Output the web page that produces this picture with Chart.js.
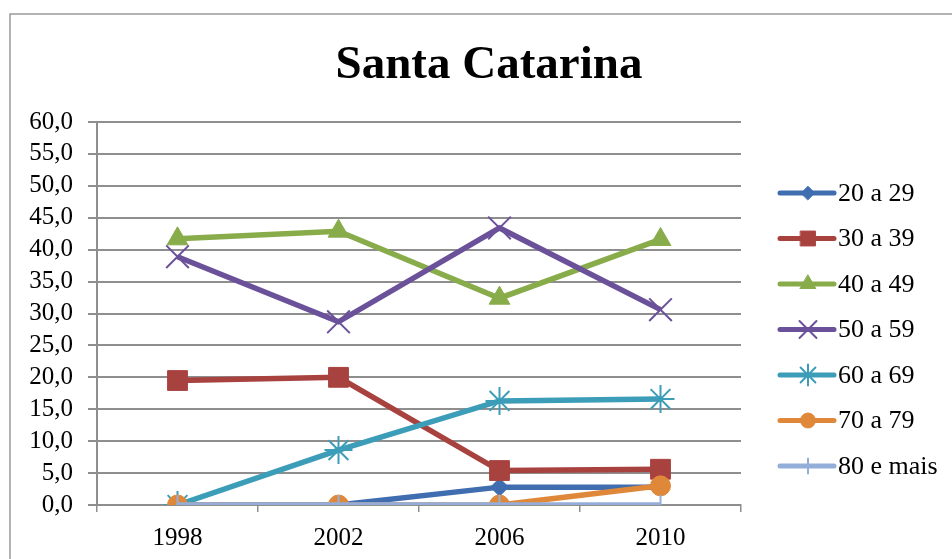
<!DOCTYPE html>
<html>
<head>
<meta charset="utf-8">
<script src="https://cdn.jsdelivr.net/npm/chart.js@4/dist/chart.umd.min.js"></script>
<style>
  html, body { margin: 0; padding: 0; background: #fff; }
  #wrap { width: 952px; height: 559px; }
</style>
</head>
<body>
<div id="wrap"><canvas id="chart" width="952" height="559"></canvas></div>
<script>
const years = ['1998', '2002', '2006', '2010'];

const age20 = [0, 0, 2.8, 2.8];
const age30 = [19.5, 20.0, 5.4, 5.6];
const age40 = [41.7, 42.9, 32.4, 41.6];
const age50 = [38.9, 28.7, 43.4, 30.6];
const age60 = [0, 8.6, 16.3, 16.6];
const age70 = [0, 0, 0, 3.0];
const age80 = [0, 0, 0, 0];

const seriesNames = ['20 a 29', '30 a 39', '40 a 49', '50 a 59', '60 a 69', '70 a 79', '80 e mais'];

const serif = "'Liberation Serif', 'Times New Roman', serif";
const gridGray = '#8e8e8e';

function makeSeries(label, data, color, style, radius, borderW, rotation) {
    return {
        label: label,
        data: data,
        borderColor: color,
        backgroundColor: color,
        pointBackgroundColor: color,
        pointBorderColor: color,
        borderWidth: 5.5,
        pointStyle: style,
        pointRadius: radius,
        pointBorderWidth: borderW,
        pointRotation: rotation || 0,
        tension: 0
    };
}

const datasets = [
    makeSeries(seriesNames[0], age20, '#3F6DAF', 'rectRot', 9, 1),
    makeSeries(seriesNames[1], age30, '#A8423F', 'rect', 14, 1),
    makeSeries(seriesNames[2], age40, '#89AC4B', 'triangle', 12, 1),
    makeSeries(seriesNames[3], age50, '#6B519A', 'crossRot', 16, 2),
    makeSeries(seriesNames[4], age60, '#3C9DB8', 'star', 14, 2),
    makeSeries(seriesNames[5], age70, '#E0883A', 'circle', 10, 1),
    makeSeries(seriesNames[6], age80, '#94AEDA', 'line', 10, 2, 90)
];
// later series sit on top, like the original
datasets.forEach((d, i) => { d.order = datasets.length - i; });

const extras = {
    id: 'extras',
    afterDraw(chart) {
        const ctx = chart.ctx;
        ctx.save();
        // outer frame (cropped at right / bottom)
        ctx.strokeStyle = '#9a9a9a';
        ctx.lineWidth = 1.5;
        ctx.beginPath();
        ctx.moveTo(10, 559);
        ctx.lineTo(10, 14);
        ctx.lineTo(952, 14);
        ctx.stroke();

        // title
        ctx.fillStyle = '#000';
        ctx.font = 'bold 47px ' + serif;
        ctx.textAlign = 'center';
        ctx.textBaseline = 'alphabetic';
        ctx.fillText('Santa Catarina', 489, 78);

        // legend
        ctx.font = '26px ' + serif;
        ctx.textAlign = 'left';
        ctx.textBaseline = 'middle';
        chart.data.datasets.forEach((ds, i) => {
            const y = 193 + i * 45.5;
            ctx.strokeStyle = ds.borderColor;
            ctx.lineWidth = 5;
            ctx.lineCap = 'round';
            ctx.beginPath();
            ctx.moveTo(780, y);
            ctx.lineTo(834, y);
            ctx.stroke();
            ctx.lineWidth = ds.pointBorderWidth;
            ctx.fillStyle = ds.pointBackgroundColor;
            Chart.helpers.drawPoint(ctx, {
                pointStyle: ds.pointStyle,
                radius: ds.pointRadius * 0.75,
                rotation: ds.pointRotation,
                borderWidth: ds.pointBorderWidth
            }, 808, y);
            ctx.fillStyle = '#000';
            ctx.fillText(ds.label, 838, y + 1);
        });
        ctx.restore();
    }
};

new Chart(document.getElementById('chart'), {
    type: 'line',
    data: {
        labels: years,
        datasets: datasets
    },
    options: {
        responsive: false,
        animation: false,
        layout: {
            padding: { left: 0, top: 122, right: 211, bottom: 0 }
        },
        plugins: {
            legend: { display: false },
            title: { display: false },
            tooltip: { enabled: false }
        },
        scales: {
            x: {
                offset: true,
                afterFit(scale) { scale.height = 54; },
                grid: {
                    offset: true,
                    drawOnChartArea: false,
                    drawTicks: true,
                    tickLength: 7,
                    color: gridGray,
                    lineWidth: 1.5
                },
                border: { display: true, color: gridGray, width: 2 },
                ticks: {
                    color: '#000',
                    padding: 11,
                    font: { family: serif, size: 25 }
                }
            },
            y: {
                min: 0,
                max: 60,
                afterFit(scale) { scale.width = 97; },
                grid: {
                    color: gridGray,
                    lineWidth: 2,
                    tickLength: 9
                },
                border: { display: true, color: gridGray, width: 2 },
                ticks: {
                    stepSize: 5,
                    autoSkip: false,
                    color: '#000',
                    padding: 15,
                    font: { family: serif, size: 25 },
                    callback: (v) => v.toFixed(1).replace('.', ',')
                }
            }
        }
    },
    plugins: [extras]
});
</script>
</body>
</html>
